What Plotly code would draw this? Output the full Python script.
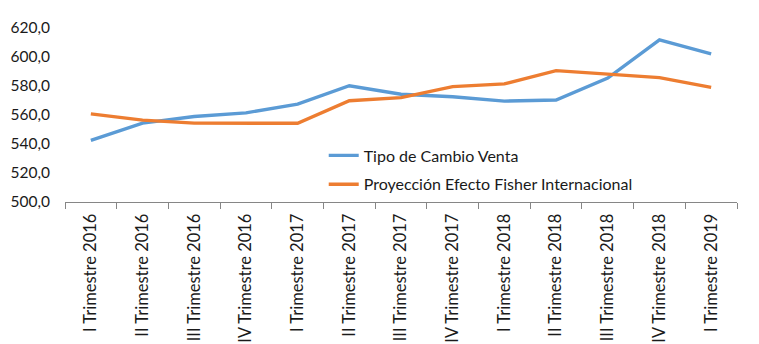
import plotly.graph_objects as go

categories = ["I Trimestre 2016", "II Trimestre 2016", "III Trimestre 2016", "IV Trimestre 2016",
              "I Trimestre 2017", "II Trimestre 2017", "III Trimestre 2017", "IV Trimestre 2017",
              "I Trimestre 2018", "II Trimestre 2018", "III Trimestre 2018", "IV Trimestre 2018",
              "I Trimestre 2019"]
tipo_cambio_venta = [542.5, 554.4, 559.0, 561.5, 567.5, 580.2, 574.3, 572.6, 569.6, 570.3, 585.5, 611.8, 602.2]
proyeccion_fisher = [560.8, 556.5, 554.4, 554.3, 554.3, 569.8, 572.0, 579.6, 581.5, 590.6, 588.3, 585.8, 579.0]

fig = go.Figure()
fig.add_trace(go.Scatter(x=categories, y=tipo_cambio_venta, mode="lines",
                         name="Tipo de Cambio Venta", legendgroup="a",
                         line=dict(color="#5B9BD5", width=3.4)))
fig.add_trace(go.Scatter(x=categories, y=proyeccion_fisher, mode="lines",
                         name="Proyección Efecto Fisher Internacional", legendgroup="b",
                         line=dict(color="#ED7D31", width=3.4)))

fig.update_layout(
    width=751, height=336,
    margin=dict(l=57, r=22, t=20, b=142, autoexpand=False),
    paper_bgcolor="white", plot_bgcolor="white",
    font=dict(family="Lato, Open Sans, sans-serif", size=15, color="#1a1a1a"),
    separators=",.",
    showlegend=True,
    legend=dict(x=0.385, y=0.365, xanchor="left", yanchor="top",
                bgcolor="rgba(0,0,0,0)", tracegroupgap=5,
                font=dict(size=16, color="#1a1a1a")),
    xaxis=dict(type="category", showline=True, linecolor="#868686", linewidth=1,
               ticks="outside", tickson="boundaries", ticklen=6, tickcolor="#868686",
               tickangle=-90, showgrid=False, tickfont=dict(size=16.5), range=[-0.5, 12.5],
               ticklabelstandoff=4, automargin=False),
    yaxis=dict(range=[500, 620], dtick=20, tickformat=".1f", showgrid=False,
               showline=False, zeroline=False, ticks="", tickfont=dict(size=15.5),
               ticklabelstandoff=14, automargin=False),
)

fig.write_html("out.html")
